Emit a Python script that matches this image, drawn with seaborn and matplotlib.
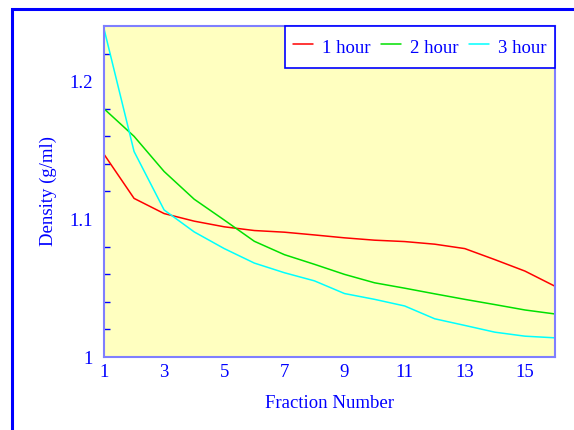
import matplotlib
matplotlib.use("Agg")
import matplotlib.pyplot as plt
from matplotlib.patches import Rectangle
import seaborn as sns
import pandas as pd

# values
fractions = list(range(1, 17))
hour_1 = [1.147, 1.115, 1.104, 1.0985, 1.0944, 1.0917, 1.0905, 1.0885,
          1.0864, 1.0847, 1.0837, 1.0818, 1.0786, 1.0706, 1.0623, 1.0513]
hour_2 = [1.180, 1.160, 1.1345, 1.1144, 1.0993, 1.0839, 1.0742, 1.0672,
          1.0599, 1.0538, 1.0499, 1.0458, 1.0418, 1.038, 1.0341, 1.0312]
hour_3 = [1.238, 1.149, 1.1066, 1.0907, 1.0786, 1.0681, 1.0611, 1.0552,
          1.046, 1.0418, 1.037, 1.0277, 1.0229, 1.018, 1.0151, 1.0139]
series_names = ["1 hour", "2 hour", "3 hour"]
x_tick_labels = [str(i) if i % 2 == 1 else "" for i in fractions]

BLUE = "#0000ff"
SPINE = "#7f7fff"
FS = 13.5

sns.set_style("white")
plt.rcParams["font.family"] = ["Liberation Serif", "DejaVu Serif"]

df = pd.DataFrame({
    "Fraction": fractions * 3,
    "Density": hour_1 + hour_2 + hour_3,
    "Time": [n for n in series_names for _ in fractions],
})

fig = plt.figure(figsize=(5.74, 4.30), dpi=100)
fig.patch.set_facecolor("white")

# outer blue frame that runs off the right and bottom edges
fig.patches.append(Rectangle((12 / 574, -0.1), 1.2, 1 - 9 / 430 + 0.1,
                             transform=fig.transFigure, fill=False,
                             edgecolor=BLUE, linewidth=2.2))

ax = fig.add_axes([104 / 574, 1 - 357 / 430, (555 - 104) / 574, (357 - 26) / 430])
ax.set_facecolor("#ffffc0")

sns.lineplot(data=df, x="Fraction", y="Density", hue="Time",
             palette=["#ff0000", "#00e000", "#00ffff"], linewidth=1.1, ax=ax)

ax.set_xlim(1, 16)
ax.set_ylim(1.0, 1.24)
ax.set_xticks(fractions)
ax.set_xticklabels(x_tick_labels)
ax.set_yticks([1.0, 1.1, 1.2])
ax.set_yticklabels(["1", "1.1", "1.2"])
ax.set_yticks([1.02, 1.04, 1.06, 1.08, 1.12, 1.14, 1.16, 1.18, 1.22], minor=True)

ax.tick_params(axis="x", direction="in", length=5.5, width=1, color=BLUE,
               labelcolor=BLUE, labelsize=FS, pad=5)
ax.tick_params(axis="y", which="major", direction="in", length=8, width=1,
               color=BLUE, labelcolor=BLUE, labelsize=FS, pad=8)
ax.tick_params(axis="y", which="minor", direction="in", length=4.5, width=1,
               color=BLUE, left=True)

for side in ax.spines.values():
    side.set_color(SPINE)
    side.set_linewidth(1.5)
    side.set_visible(True)

ax.set_xlabel("Fraction Number", color=BLUE, fontsize=FS, labelpad=10)
ax.set_ylabel("Density (g/ml)", color=BLUE, fontsize=FS, labelpad=9)

leg = ax.legend(loc="upper right", ncol=3, frameon=True, fancybox=False,
                borderaxespad=0, fontsize=FS, handlelength=1.05,
                handleheight=1.7, handletextpad=0.5, columnspacing=0.55,
                borderpad=0.45)
leg.get_frame().set_facecolor("white")
leg.get_frame().set_edgecolor(BLUE)
leg.get_frame().set_linewidth(1.2)
leg.get_frame().set_alpha(1)
for t in leg.get_texts():
    t.set_color(BLUE)
for h in leg.get_lines():
    h.set_linewidth(1.1)

fig.savefig("out.png", dpi=100)
